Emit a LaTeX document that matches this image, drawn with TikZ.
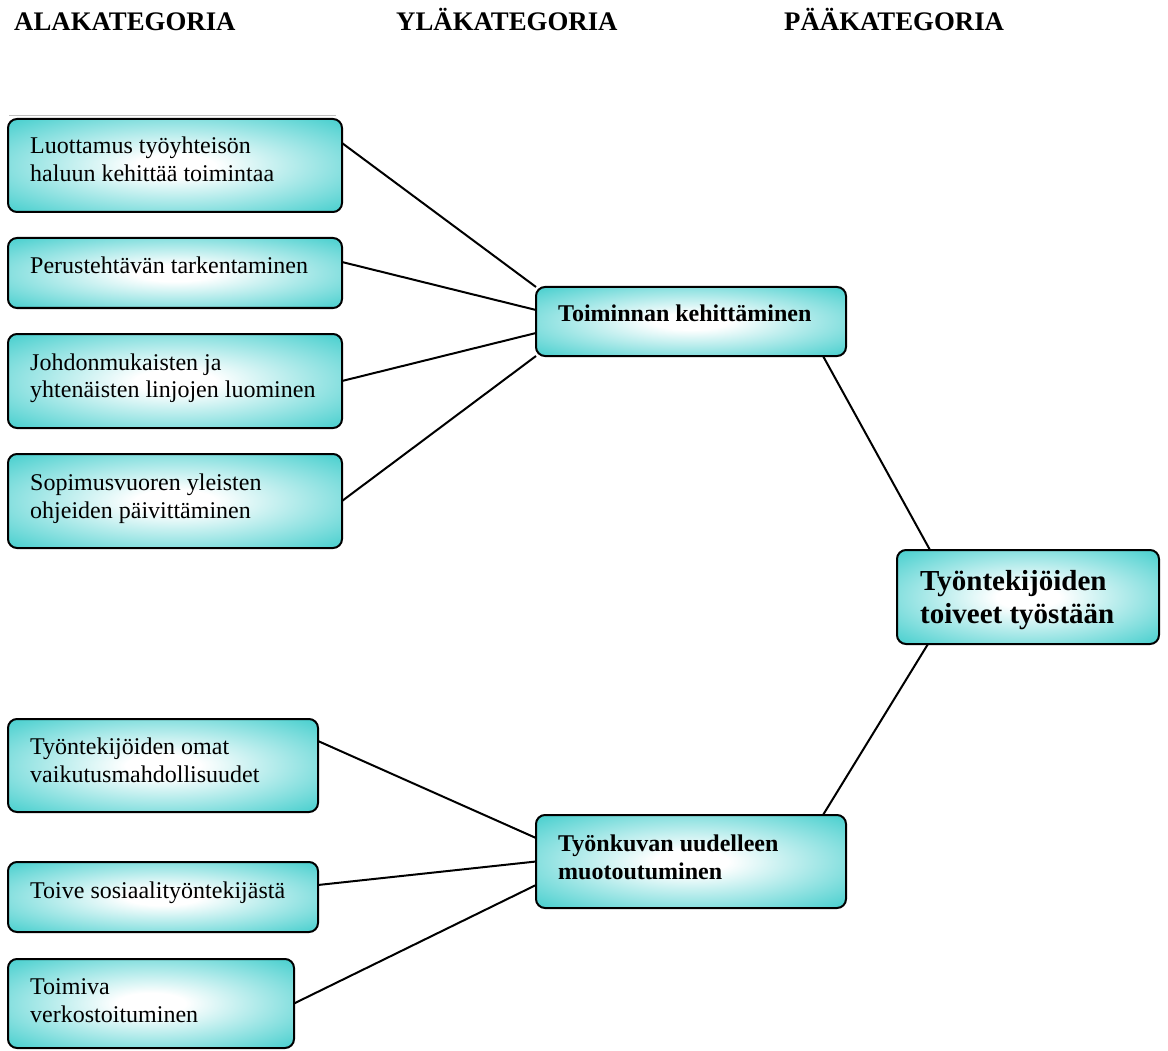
\documentclass[tikz,border=0pt]{standalone}
\usepackage{fontspec}
\setmainfont{Liberation Serif}
\usetikzlibrary{calc}
\definecolor{turq}{RGB}{60,204,203}
\pgfdeclareradialshading{boxshade}{\pgfpointorigin}{color(0bp)=(white); color(6bp)=(white); color(37bp)=(turq); color(80bp)=(turq)}
\newcommand\twolines[3][28pt]{\vtop{\baselineskip=#1\hbox{#2}\hbox{#3}}}
\tikzset{
  box/.style={draw=black, line width=2pt, rounded corners=9pt, shade, shading=boxshade, inner sep=0pt, outer sep=0pt},
  lbl/.style={anchor=base west, inner sep=0pt, font=\fontsize{24}{28}\selectfont},
  blbl/.style={lbl, font=\fontsize{24}{28}\selectfont\bfseries},
  head/.style={anchor=base west, inner sep=0pt, font=\fontsize{26.8}{30}\selectfont\bfseries},
  conn/.style={draw=black, line width=2pt},
}
\begin{document}
\begin{tikzpicture}[x=1pt, y=-1pt]
\useasboundingbox (0,0) rectangle (1168,1051);
% headers
\node[head] (h1) at (14,31) {ALAKATEGORIA};
\node[head] (h2) at (396,31) {YLÄKATEGORIA};
\node[head] (h3) at (784,31) {PÄÄKATEGORIA};
% thin line above first box
\draw[black!25, line width=0.8pt] (9,115) -- (336,115);
% boxes
\node[box, minimum width=334pt, minimum height=93pt] (b1) at (175,165.5) {};
\node[box, minimum width=334pt, minimum height=70pt] (b2) at (175,273) {};
\node[box, minimum width=334pt, minimum height=94pt] (b3) at (175,381) {};
\node[box, minimum width=334pt, minimum height=94pt] (b4) at (175,501) {};
\node[box, minimum width=310pt, minimum height=69pt] (b5) at (691,321.5) {};
\node[box, minimum width=262pt, minimum height=94pt] (b6) at (1028,597) {};
\node[box, minimum width=310pt, minimum height=93pt] (b7) at (163,765.5) {};
\node[box, minimum width=310pt, minimum height=70pt] (b8) at (163,897) {};
\node[box, minimum width=286pt, minimum height=89pt] (b9) at (151,1003.5) {};
\node[box, minimum width=310pt, minimum height=93pt] (b10) at (691,861.5) {};
% texts
\node[lbl] (t1) at (30,154) {\twolines{Luottamus työyhteisön}{haluun kehittää toimintaa}};
\node[lbl] (t2) at (30,274) {Perustehtävän tarkentaminen};
\node[lbl] (t3) at (30,370) {\twolines{Johdonmukaisten ja}{yhtenäisten linjojen luominen}};
\node[lbl] (t4) at (30,490) {\twolines{Sopimusvuoren yleisten}{ohjeiden päivittäminen}};
\node[blbl] (t5) at (558,321) {Toiminnan kehittäminen};
\node[anchor=base west, inner sep=0pt, font=\fontsize{29}{33}\selectfont\bfseries] (t6) at (920,590) {\twolines[33pt]{Työntekijöiden}{toiveet työstään}};
\node[lbl] (t7) at (30,754) {\twolines{Työntekijöiden omat}{vaikutusmahdollisuudet}};
\node[lbl] (t8) at (30,898) {Toive sosiaalityöntekijästä};
\node[lbl] (t9) at (30,994) {\twolines{Toimiva}{verkostoituminen}};
\node[blbl] (t10) at (558,851) {\twolines{Työnkuvan uudelleen}{muotoutuminen}};
% connectors
\draw[conn] ([yshift=22.5pt]b1.east) -- (b5.north west);
\draw[conn] ([yshift=11pt]b2.east) -- ([yshift=11.5pt]b5.west);
\draw[conn] (b3.east) -- ([yshift=-11.5pt]b5.west);
\draw[conn] (b4.east) -- (b5.south west);
\draw[conn] ([xshift=-23pt]b5.south east) -- ([xshift=33pt]b6.north west);
\draw[conn] ([xshift=31pt]b6.south west) -- ([xshift=-23pt]b10.north east);
\draw[conn] ([yshift=24.5pt]b7.east) -- ([yshift=23.5pt]b10.west);
\draw[conn] ([yshift=12pt]b8.east) -- (b10.west);
\draw[conn] (b9.east) -- ([yshift=-23.5pt]b10.west);
\end{tikzpicture}
\end{document}
